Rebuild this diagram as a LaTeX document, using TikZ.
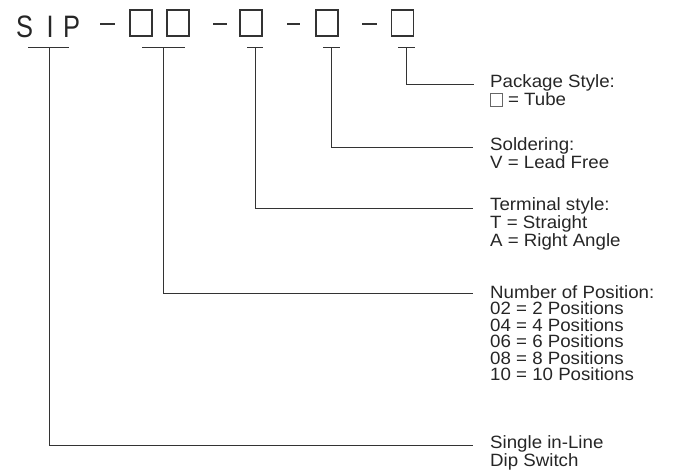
\documentclass[tikz,border=0pt]{standalone}
\usepackage{fontspec}
\usetikzlibrary{calc}
\setmainfont{Liberation Sans}[FakeStretch=1.05]
\newfontfamily\sipfont{Liberation Sans}[FakeStretch=0.82]
\newcommand{\sqbox}{{\fboxsep=0pt\fboxrule=0.6pt\color{black!60}\fbox{\rule{0pt}{11.5pt}\hspace{11.5pt}}}}
\begin{document}
\begin{tikzpicture}[x=1pt,y=-1pt,
  ln/.style={draw=black!80, line width=1pt},
  bx/.style={draw=black!80, line width=1.2pt, minimum width=22pt, minimum height=26pt, inner sep=0pt},
  dashln/.style={draw=black!80, line width=1.2pt},
  lbl/.style={anchor=base west, align=left, inner sep=0pt, font=\fontsize{17.8}{16.5}\selectfont, text=black!85}]
\useasboundingbox (0,0) rectangle (679,475);
% header
\node[anchor=base west, inner sep=0pt, text=black!85, font=\sipfont\fontsize{31}{31}\selectfont] (sip) at (16,37) {S\kern13.5pt I\kern9.5pt P};
\node[bx] (b1) at (141,23) {};
\node[bx] (b2) at (178,23) {};
\node[bx] (b3) at (251,23) {};
\node[bx] (b4) at (327,23) {};
\node[bx] (b5) at (402.5,23) {};
\coordinate (d1a) at (100,24); \coordinate (d1b) at (115,24);
\coordinate (d2a) at (213,24); \coordinate (d2b) at (227,24);
\coordinate (d3a) at (287,24); \coordinate (d3b) at (300,24);
\coordinate (d4a) at (362,24); \coordinate (d4b) at (377,24);
\draw[dashln] (d1a) -- (d1b);
\draw[dashln] (d2a) -- (d2b);
\draw[dashln] (d3a) -- (d3b);
\draw[dashln] (d4a) -- (d4b);
% T bars
\coordinate (t1) at (49,47);  \draw[ln] ($(t1)+(-21,0)$) -- ($(t1)+(20,0)$);
\coordinate (t2) at (163,47); \draw[ln] ($(t2)+(-21,0)$) -- ($(t2)+(22,0)$);
\coordinate (t3) at (255,47); \draw[ln] ($(t3)+(-8,0)$) -- ($(t3)+(8,0)$);
\coordinate (t4) at (331,47); \draw[ln] ($(t4)+(-8,0)$) -- ($(t4)+(9,0)$);
\coordinate (t5) at (406,47); \draw[ln] ($(t5)+(-8,0)$) -- ($(t5)+(9,0)$);
% labels (base anchor = baseline of the last line)
\node[lbl] (l5) at (490,105.5) {Package Style:\\\sqbox{} = Tube};
\node[lbl] (l4) at (490,168.5) {Soldering:\\V = Lead Free};
\node[lbl] (l3) at (490,246) {Terminal style:\\T = Straight\\A = Right Angle};
\node[lbl] (l2) at (490,380.5) {Number of Position:\\02 = 2 Positions\\04 = 4 Positions\\06 = 6 Positions\\08 = 8 Positions\\10 = 10 Positions};
\node[lbl] (l1) at (490,466.5) {Single in-Line\\Dip Switch};
% connectors
\coordinate (e5) at (474,84);
\coordinate (e4) at (473,147);
\coordinate (e3) at (473,208);
\coordinate (e2) at (473,293);
\coordinate (e1) at (473,445);
\draw[ln] (t5) |- (e5);
\draw[ln] (t4) |- (e4);
\draw[ln] (t3) |- (e3);
\draw[ln] (t2) |- (e2);
\draw[ln] (t1) |- (e1);
\end{tikzpicture}
\end{document}
